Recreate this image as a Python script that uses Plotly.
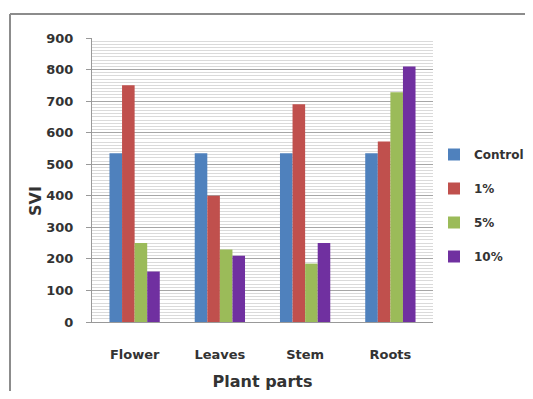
import plotly.graph_objects as go

categories = ["Flower", "Leaves", "Stem", "Roots"]
series_names = ["Control", "1%", "5%", "10%"]
control = [535, 535, 535, 535]
pct1 = [750, 400, 690, 572]
pct5 = [250, 230, 185, 728]
pct10 = [160, 210, 250, 810]
colors = ["#4F81BD", "#C0504D", "#9BBB59", "#7030A0"]
y_ticks = [0, 100, 200, 300, 400, 500, 600, 700, 800, 900]

values = [control, pct1, pct5, pct10]

fig = go.Figure()
for name, vals, col in zip(series_names, values, colors):
    fig.add_trace(go.Bar(x=categories, y=vals, name=name, marker_color=col,
                         marker_line_width=0, legendgroup=name))

# page body has an 8px margin: figure coords = screen coords - 8
OFF = 8
W, H = 533 - 2 * OFF, 399 - 2 * OFF
L, R, T, B = 92 - OFF, 433 - OFF, 38 - OFF, 322 - OFF
def px(xs):
    return (xs - OFF - L) / (R - L)
def py(ys):
    return (B - (ys - OFF)) / (B - T)

FAM = "DejaVu Sans"
TXT = "#333333"

fig.update_layout(
    width=W, height=H,
    margin=dict(l=L, r=W - R, t=T, b=H - B, autoexpand=False),
    paper_bgcolor="white", plot_bgcolor="white",
    barmode="group", bargap=0.41, bargroupgap=0,
    font=dict(family=FAM, size=13, color=TXT, weight="bold"),
    showlegend=True,
    legend=dict(xref="container", yref="container",
                x=(434 - OFF) / W, y=1 - (140 - OFF) / H,
                xanchor="left", yanchor="top",
                font=dict(family=FAM, size=12, color=TXT, weight="bold"),
                tracegroupgap=15, bgcolor="rgba(0,0,0,0)"),
    xaxis=dict(showline=True, linecolor="#999999", linewidth=1, automargin=False,
               ticks="", ticklabelstandoff=20, tickfont=dict(size=13),
               title=dict(text="Plant parts", font=dict(family=FAM, size=16,
                                                         color=TXT, weight="bold"),
                          standoff=18)),
    yaxis=dict(range=[0, 900], tickvals=y_ticks, showline=True, linecolor="#999999",
               automargin=False,
               ticks="outside", ticklen=5, tickcolor="#999999",
               gridcolor="#A6A6A6", gridwidth=1, zeroline=False,
               minor=dict(dtick=10, showgrid=True, gridcolor="#DADADA", gridwidth=1, ticks=""),
               tickfont=dict(size=13), ticklabelstandoff=10),
)

fig.add_annotation(text="SVI", xref="paper", yref="paper", x=px(35), y=py(201),
                   xanchor="center", yanchor="middle", textangle=-90, showarrow=False,
                   font=dict(family=FAM, size=16, color=TXT, weight="bold"))

# outer chart frame (partially visible in the reference)
fig.add_shape(type="line", xref="paper", yref="paper",
              x0=px(10), x1=px(10), y0=py(14), y1=py(399 - OFF),
              line=dict(color="#8C8C8C", width=2))
fig.add_shape(type="line", xref="paper", yref="paper",
              x0=px(10), x1=px(533 - OFF), y0=py(14), y1=py(14),
              line=dict(color="#8C8C8C", width=2))

fig.write_html("out.html")
